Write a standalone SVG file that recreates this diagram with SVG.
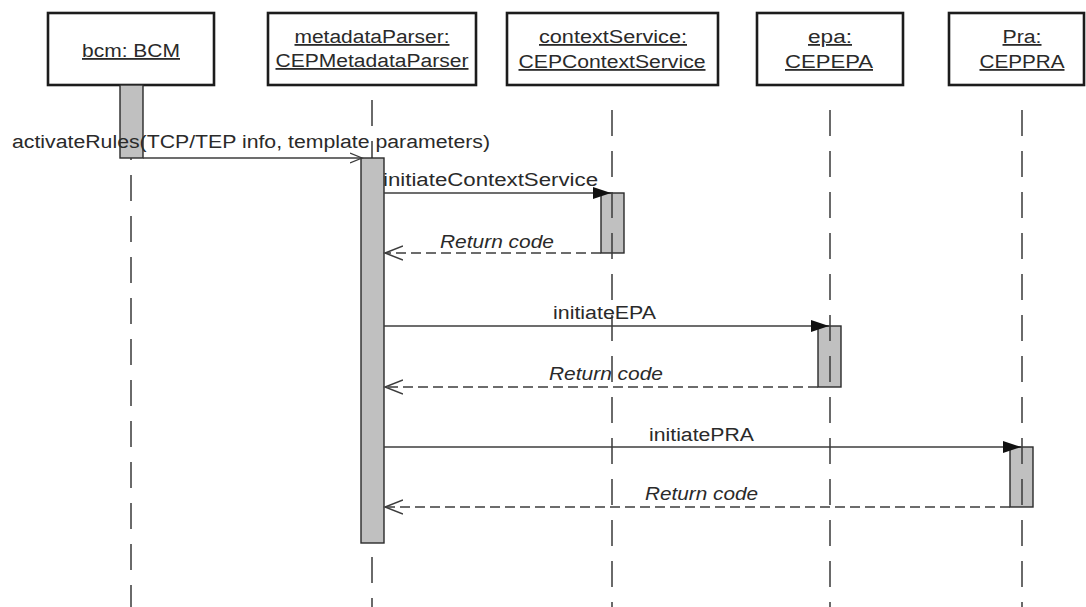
<svg xmlns="http://www.w3.org/2000/svg" width="1086" height="607" viewBox="0 0 1086 607">
<style>
.box{fill:#fff;stroke:#1c1c1c;stroke-width:2.6}
.bar{fill:#c0c0c0;stroke:#2a2a2a;stroke-width:1.4}
.life{fill:none;stroke:#3a3a3a;stroke-width:1.5;stroke-dasharray:26 15}
.t{font-family:"Liberation Sans",Arial,sans-serif;font-size:18px;fill:#2a2a2a}
.u{text-decoration:underline}
.i{font-style:italic}
.msg{fill:none;stroke:#3c3c3c;stroke-width:1.5}
.ret{fill:none;stroke:#3c3c3c;stroke-width:1.5;stroke-dasharray:10 5}
</style>
<defs>
<marker id="filled" markerWidth="20" markerHeight="14" refX="18" refY="7" orient="auto" markerUnits="userSpaceOnUse"><path d="M0,1 L18,7 L0,13 Z" fill="#111"/></marker>
<marker id="open" markerWidth="20" markerHeight="16" refX="18" refY="8" orient="auto" markerUnits="userSpaceOnUse"><path d="M0,1 L18,8 L0,15" fill="none" stroke="#3c3c3c" stroke-width="1.5"/></marker>
<marker id="openSmall" markerWidth="14" markerHeight="12" refX="12" refY="6" orient="auto" markerUnits="userSpaceOnUse"><path d="M0,1 L12,6 L0,11" fill="none" stroke="#3c3c3c" stroke-width="1.3"/></marker>
</defs>
<rect width="1086" height="607" fill="#fff"/>

<g id="bcm">
<rect class="box" x="48" y="13" width="166" height="72"/>
<text class="t u" x="131" y="57" text-anchor="middle" textLength="98" lengthAdjust="spacingAndGlyphs">bcm: BCM</text>
<rect class="bar" x="120" y="85" width="23" height="73"/>
<path class="life" d="M131 158 V607" stroke-dashoffset="24"/>
</g>

<g id="metadataParser">
<rect class="box" x="268" y="13" width="208" height="72"/>
<text class="t u" x="372" y="43" text-anchor="middle" textLength="155" lengthAdjust="spacingAndGlyphs">metadataParser:</text>
<text class="t u" x="372" y="67" text-anchor="middle" textLength="193" lengthAdjust="spacingAndGlyphs">CEPMetadataParser</text>
<path class="life" d="M372 100 V158"/>
<path class="life" d="M372 557 V607"/>
<rect class="bar" x="361" y="158" width="23" height="385"/>
</g>

<g id="contextService">
<rect class="box" x="507" y="13" width="211" height="72"/>
<text class="t u" x="613" y="43" text-anchor="middle" textLength="148" lengthAdjust="spacingAndGlyphs">contextService:</text>
<text class="t u" x="612" y="68" text-anchor="middle" textLength="187" lengthAdjust="spacingAndGlyphs">CEPContextService</text>
<rect class="bar" x="601" y="193" width="23" height="60"/>
<path class="life" d="M612 110 V607"/>
</g>

<g id="epa">
<rect class="box" x="757" y="13" width="146" height="72"/>
<text class="t u" x="830" y="43" text-anchor="middle" textLength="44" lengthAdjust="spacingAndGlyphs">epa:</text>
<text class="t u" x="829" y="68" text-anchor="middle" textLength="88" lengthAdjust="spacingAndGlyphs">CEPEPA</text>
<rect class="bar" x="818" y="326" width="23" height="61"/>
<path class="life" d="M830 110 V607"/>
</g>

<g id="pra">
<rect class="box" x="949" y="13" width="135" height="72"/>
<text class="t u" x="1022" y="43" text-anchor="middle" textLength="39" lengthAdjust="spacingAndGlyphs">Pra:</text>
<text class="t u" x="1022" y="68" text-anchor="middle" textLength="85" lengthAdjust="spacingAndGlyphs">CEPPRA</text>
<rect class="bar" x="1010" y="447" width="23" height="60"/>
<path class="life" d="M1022 110 V607"/>
</g>

<g id="connectors">
<path class="msg" d="M143 158 H362" marker-end="url(#openSmall)"/>
<text class="t" x="12" y="148" textLength="478" lengthAdjust="spacingAndGlyphs">activateRules(TCP/TEP info, template parameters)</text>

<path class="msg" d="M384 193 H611" marker-end="url(#filled)"/>
<text class="t" x="383" y="186" textLength="215" lengthAdjust="spacingAndGlyphs">initiateContextService</text>

<path class="ret" d="M601 253 H385" marker-end="url(#open)"/>
<text class="t i" x="440" y="248" textLength="114" lengthAdjust="spacingAndGlyphs">Return code</text>

<path class="msg" d="M384 326 H829" marker-end="url(#filled)"/>
<text class="t" x="553" y="319" textLength="103" lengthAdjust="spacingAndGlyphs">initiateEPA</text>

<path class="ret" d="M818 387 H385" marker-end="url(#open)"/>
<text class="t i" x="549" y="380" textLength="114" lengthAdjust="spacingAndGlyphs">Return code</text>

<path class="msg" d="M384 447 H1021" marker-end="url(#filled)"/>
<text class="t" x="649" y="441" textLength="105" lengthAdjust="spacingAndGlyphs">initiatePRA</text>

<path class="ret" d="M1010 507 H385" marker-end="url(#open)"/>
<text class="t i" x="645" y="500" textLength="113" lengthAdjust="spacingAndGlyphs">Return code</text>
</g>
</svg>
